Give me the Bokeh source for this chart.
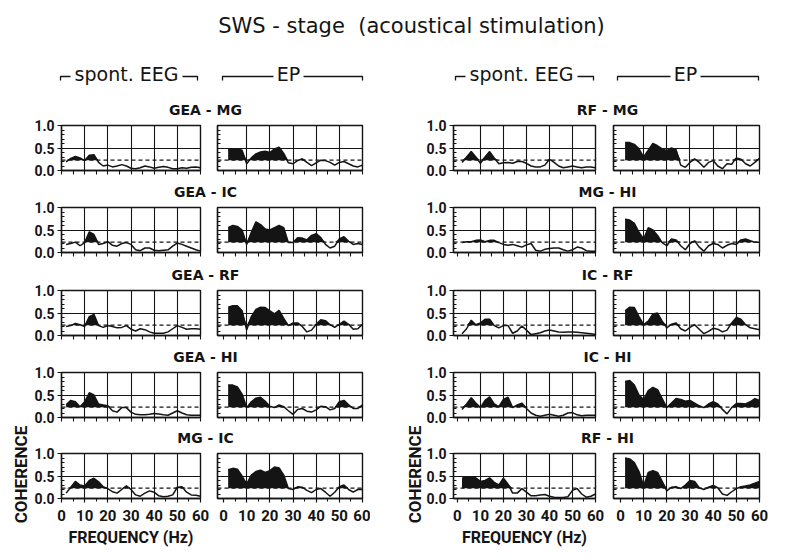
import numpy as np
from bokeh.plotting import figure
from bokeh.layouts import row, column
from bokeh.models import Range1d, FixedTicker, NumeralTickFormatter, Span
from bokeh.core.properties import value
from bokeh.embed import file_html
from bokeh.resources import INLINE

# ---------------- data ----------------
FREQ = [2, 4, 6, 8, 10, 12, 14, 16, 18, 20, 22, 24, 26, 28, 30,
        32, 34, 36, 38, 40, 42, 44, 46, 48, 50, 52, 54, 56, 58, 60]
SIG = 0.23  # significance level (dashed line)

TITLE = "SWS - stage\u00a0 (acoustical stimulation)"
GROUPS = ["spont. EEG", "EP"]
PAIRS_LEFT = ["GEA - MG", "GEA - IC", "GEA - RF", "GEA - HI", "MG - IC"]
PAIRS_RIGHT = ["RF - MG", "MG - HI", "IC - RF", "IC - HI", "RF - HI"]
X_TICKS = [0, 10, 20, 30, 40, 50, 60]
Y_TICKS = [0.0, 0.5, 1.0]
Y_LABEL = "COHERENCE"
X_LABEL = "FREQUENCY (Hz)"

GEA_MG_SP = [0.19, 0.27, 0.31, 0.28, 0.22, 0.34, 0.35, 0.18, 0.10, 0.12, 0.08, 0.10, 0.13, 0.10, 0.05,
             0.04, 0.06, 0.10, 0.08, 0.05, 0.07, 0.09, 0.07, 0.04, 0.04, 0.06, 0.05, 0.07, 0.08, 0.06]
GEA_MG_EP = [0.46, 0.47, 0.48, 0.45, 0.15, 0.28, 0.37, 0.41, 0.43, 0.40, 0.48, 0.52, 0.38, 0.17, 0.15,
             0.22, 0.26, 0.18, 0.11, 0.17, 0.23, 0.22, 0.18, 0.12, 0.18, 0.20, 0.15, 0.10, 0.08, 0.12]
GEA_IC_SP = [0.18, 0.20, 0.23, 0.15, 0.22, 0.46, 0.40, 0.18, 0.20, 0.24, 0.16, 0.14, 0.20, 0.22, 0.18,
             0.06, 0.04, 0.10, 0.10, 0.05, 0.04, 0.05, 0.06, 0.14, 0.21, 0.18, 0.14, 0.10, 0.06, 0.03]
GEA_IC_EP = [0.55, 0.60, 0.58, 0.50, 0.18, 0.45, 0.68, 0.62, 0.52, 0.50, 0.55, 0.60, 0.55, 0.22, 0.22,
             0.33, 0.32, 0.28, 0.38, 0.42, 0.33, 0.18, 0.10, 0.14, 0.30, 0.35, 0.25, 0.18, 0.20, 0.18]
GEA_RF_SP = [0.20, 0.22, 0.27, 0.24, 0.20, 0.42, 0.47, 0.22, 0.18, 0.22, 0.20, 0.17, 0.18, 0.22, 0.14,
             0.10, 0.15, 0.13, 0.08, 0.05, 0.05, 0.05, 0.08, 0.15, 0.22, 0.18, 0.14, 0.15, 0.15, 0.14]
GEA_RF_EP = [0.63, 0.66, 0.66, 0.55, 0.12, 0.42, 0.58, 0.63, 0.62, 0.55, 0.48, 0.56, 0.38, 0.22, 0.28,
             0.28, 0.20, 0.08, 0.12, 0.25, 0.35, 0.33, 0.24, 0.18, 0.25, 0.32, 0.25, 0.14, 0.15, 0.25]
GEA_HI_SP = [0.28, 0.38, 0.35, 0.24, 0.35, 0.55, 0.50, 0.30, 0.28, 0.26, 0.15, 0.12, 0.22, 0.22, 0.12,
             0.07, 0.06, 0.06, 0.07, 0.09, 0.08, 0.06, 0.05, 0.10, 0.15, 0.10, 0.06, 0.05, 0.05, 0.05]
GEA_HI_EP = [0.72, 0.72, 0.68, 0.52, 0.22, 0.35, 0.43, 0.45, 0.36, 0.25, 0.22, 0.28, 0.24, 0.15, 0.07,
             0.18, 0.20, 0.14, 0.12, 0.17, 0.25, 0.24, 0.17, 0.20, 0.35, 0.38, 0.28, 0.20, 0.20, 0.28]
MG_IC_SP = [0.12, 0.25, 0.38, 0.30, 0.28, 0.40, 0.45, 0.37, 0.26, 0.22, 0.15, 0.12, 0.20, 0.28, 0.20,
            0.08, 0.05, 0.12, 0.17, 0.14, 0.06, 0.04, 0.05, 0.08, 0.25, 0.26, 0.14, 0.08, 0.07, 0.05]
MG_IC_EP = [0.64, 0.67, 0.65, 0.50, 0.32, 0.52, 0.60, 0.63, 0.58, 0.62, 0.70, 0.68, 0.52, 0.22, 0.20,
            0.26, 0.25, 0.18, 0.13, 0.20, 0.22, 0.14, 0.05, 0.14, 0.26, 0.30, 0.20, 0.14, 0.20, 0.20]

RF_MG_SP = [0.18, 0.30, 0.42, 0.30, 0.16, 0.30, 0.42, 0.28, 0.15, 0.17, 0.18, 0.16, 0.20, 0.20, 0.16,
            0.10, 0.08, 0.08, 0.12, 0.25, 0.18, 0.10, 0.06, 0.08, 0.10, 0.08, 0.06, 0.08, 0.08, 0.06]
RF_MG_EP = [0.62, 0.62, 0.58, 0.48, 0.30, 0.45, 0.60, 0.55, 0.48, 0.44, 0.50, 0.46, 0.12, 0.07, 0.18,
            0.26, 0.18, 0.07, 0.18, 0.22, 0.10, 0.04, 0.15, 0.14, 0.28, 0.25, 0.15, 0.10, 0.18, 0.27]
MG_HI_SP = [0.22, 0.24, 0.24, 0.27, 0.28, 0.24, 0.27, 0.27, 0.22, 0.18, 0.16, 0.18, 0.15, 0.12, 0.17,
            0.20, 0.05, 0.03, 0.07, 0.09, 0.10, 0.10, 0.06, 0.03, 0.06, 0.12, 0.10, 0.04, 0.03, 0.03]
MG_HI_EP = [0.74, 0.72, 0.65, 0.45, 0.30, 0.55, 0.50, 0.38, 0.22, 0.15, 0.30, 0.28, 0.15, 0.06, 0.20,
            0.26, 0.12, 0.03, 0.15, 0.20, 0.18, 0.10, 0.16, 0.20, 0.18, 0.28, 0.30, 0.26, 0.23, 0.23]
IC_RF_SP = [0.04, 0.15, 0.34, 0.24, 0.28, 0.36, 0.36, 0.22, 0.17, 0.22, 0.22, 0.05, 0.10, 0.21, 0.12,
            0.02, 0.04, 0.06, 0.10, 0.12, 0.10, 0.08, 0.07, 0.08, 0.08, 0.07, 0.06, 0.05, 0.04, 0.02]
IC_RF_EP = [0.55, 0.63, 0.62, 0.42, 0.24, 0.32, 0.48, 0.50, 0.32, 0.17, 0.25, 0.28, 0.15, 0.10, 0.18,
            0.24, 0.14, 0.04, 0.09, 0.16, 0.14, 0.08, 0.12, 0.28, 0.40, 0.36, 0.24, 0.17, 0.15, 0.13]
IC_HI_SP = [0.18, 0.30, 0.44, 0.32, 0.22, 0.38, 0.46, 0.30, 0.24, 0.40, 0.45, 0.22, 0.28, 0.32, 0.20,
            0.10, 0.05, 0.03, 0.05, 0.07, 0.05, 0.03, 0.05, 0.10, 0.11, 0.06, 0.04, 0.05, 0.05, 0.05]
IC_HI_EP = [0.80, 0.82, 0.72, 0.50, 0.40, 0.60, 0.67, 0.62, 0.42, 0.22, 0.32, 0.42, 0.40, 0.36, 0.38,
            0.32, 0.26, 0.22, 0.30, 0.35, 0.30, 0.18, 0.08, 0.22, 0.31, 0.31, 0.30, 0.35, 0.42, 0.38]
RF_HI_SP = [0.45, 0.48, 0.48, 0.46, 0.38, 0.40, 0.46, 0.36, 0.30, 0.45, 0.32, 0.12, 0.12, 0.22, 0.14,
            0.06, 0.06, 0.08, 0.09, 0.05, 0.03, 0.02, 0.02, 0.04, 0.18, 0.22, 0.10, 0.03, 0.05, 0.10]
RF_HI_EP = [0.90, 0.88, 0.80, 0.60, 0.28, 0.58, 0.62, 0.58, 0.38, 0.17, 0.25, 0.26, 0.22, 0.30, 0.40,
            0.38, 0.24, 0.20, 0.25, 0.29, 0.24, 0.10, 0.07, 0.15, 0.22, 0.26, 0.28, 0.30, 0.34, 0.38]

LEFT_DATA = [(GEA_MG_SP, GEA_MG_EP), (GEA_IC_SP, GEA_IC_EP), (GEA_RF_SP, GEA_RF_EP),
             (GEA_HI_SP, GEA_HI_EP), (MG_IC_SP, MG_IC_EP)]
RIGHT_DATA = [(RF_MG_SP, RF_MG_EP), (MG_HI_SP, MG_HI_EP), (IC_RF_SP, IC_RF_EP),
              (IC_HI_SP, IC_HI_EP), (RF_HI_SP, RF_HI_EP)]

# ---------------- style / layout ----------------
INK = "#141414"
FONT = "DejaVu Sans"
AXFONT = "Roboto"
FRAME_H = 45
BT, BB, BB_LAST = 8, 8, 56

# per column: (x_start, frame width, border left, border right)
COLS = [(0.0, 139, 31, 9), (-2.6, 145, 8, 8), (-1.7, 142, 30, 9), (-3.0, 146, 9, 16)]
FRAME_TOPS = [125, 207, 290, 372, 453]
TOP_H = 100
X_MINOR = [5, 15, 25, 35, 45, 55]
X_ALL = [0, 5, 10, 15, 20, 25, 30, 35, 40, 45, 50, 55, 60]
Y_MINOR = [0.1, 0.2, 0.3, 0.4, 0.6, 0.7, 0.8, 0.9]


def canvas(x0, y0, w, h):
    p = figure(width=w, height=h, x_range=Range1d(x0, x0 + w), y_range=Range1d(y0 + h, y0),
               toolbar_location=None, output_backend="svg",
               x_axis_location=None, y_axis_location=None,
               min_border_left=0, min_border_right=0, min_border_top=0, min_border_bottom=0)
    p.grid.visible = False
    p.outline_line_color = None
    return p


def put_text(p, x, y, txt, size, style="normal", angle=0.0, font=FONT):
    p.text(x=[x], y=[y], text=[txt], text_font=value(font), text_font_size=value(size),
           text_font_style=value(style), text_align=value("center"),
           text_baseline=value("middle"), text_color=INK, angle=angle)


def style_axis(ax):
    ax.axis_line_color = INK
    ax.axis_line_width = 1.3
    ax.major_tick_line_color = INK
    ax.minor_tick_line_color = INK
    ax.major_tick_line_width = 1.2
    ax.minor_tick_line_width = 1.1
    ax.major_label_text_font = AXFONT
    ax.major_label_text_font_style = "bold"
    ax.major_label_text_color = INK


def panel(vals, col, last_row, show_y):
    x_start, fw, bl, br = COLS[col]
    bb = BB_LAST if last_row else BB
    p = figure(width=bl + fw + br, height=BT + FRAME_H + bb,
               x_range=Range1d(x_start, 60), y_range=Range1d(0, 1),
               toolbar_location=None, output_backend="svg",
               min_border_left=bl, min_border_right=br, min_border_top=BT, min_border_bottom=bb)
    p.background_fill_color = "white"
    p.outline_line_color = INK
    p.outline_line_width = 1.4

    p.varea(x=FREQ, y1=SIG, y2=list(np.maximum(vals, SIG)), fill_color=INK)
    p.line(FREQ, vals, line_color=INK, line_width=1.5)
    p.add_layout(Span(location=SIG, dimension="width", line_color=INK,
                      line_width=1.2, line_dash="4 3"))

    p.xgrid.ticker = FixedTicker(ticks=[10, 20, 30, 40, 50])
    p.ygrid.ticker = FixedTicker(ticks=[0.5])
    for g in (p.xgrid[0], p.ygrid[0]):
        g.grid_line_color = INK
        g.grid_line_width = 1.1
        g.grid_line_alpha = 1.0

    xa = p.xaxis[0]
    style_axis(xa)
    xa.major_tick_in, xa.major_tick_out = 0, 4
    xa.minor_tick_in, xa.minor_tick_out = 0, 3
    if last_row:
        xa.ticker = FixedTicker(ticks=X_TICKS, minor_ticks=X_MINOR)
        xa.major_label_text_font_size = "15px"
        xa.major_label_standoff = 7
        if col in (0, 2):
            xa.axis_label = X_LABEL
            xa.axis_label_text_font = AXFONT
            xa.axis_label_text_font_size = "16px"
            xa.axis_label_text_font_style = "bold"
            xa.axis_label_text_color = INK
            xa.axis_label_standoff = 4
    else:
        # ticks only, no labels
        xa.ticker = FixedTicker(ticks=[], minor_ticks=X_ALL)
        xa.minor_tick_out = 4

    ya = p.yaxis[0]
    style_axis(ya)
    ya.minor_tick_in, ya.minor_tick_out = 3, 0
    if show_y:
        ya.ticker = FixedTicker(ticks=Y_TICKS, minor_ticks=Y_MINOR)
        ya.formatter = NumeralTickFormatter(format="0.0")
        ya.major_tick_in, ya.major_tick_out = 0, 4
        ya.major_label_text_font_size = "14px"
        ya.major_label_standoff = 3
    else:
        ya.ticker = FixedTicker(ticks=[], minor_ticks=Y_MINOR + [0.5])
    return p


def half(data, pairs, cols, x0, label_x):
    w = sum(COLS[c][1] + COLS[c][2] + COLS[c][3] for c in cols)
    items = []
    y = TOP_H
    for i, (sp, ep) in enumerate(data):
        sh = FRAME_TOPS[i] - BT - y
        s = canvas(x0, y, w, sh)
        put_text(s, label_x, FRAME_TOPS[i] - 16, pairs[i], "14px", "bold")
        items.append(s)
        y += sh
        last = i == len(data) - 1
        p1 = panel(sp, cols[0], last, True)
        p2 = panel(ep, cols[1], last, False)
        items.append(row(p1, p2))
        y += p1.height
    return column(*items), w, y


# ---------------- header ----------------
top = canvas(0, 0, 780, TOP_H)
put_text(top, 411, 25, TITLE, "21px", "normal")
HEAD_Y, LINE_Y, HOOK = 73, 76, 4
# (text, text centre, bracket start, bracket end, half-width of text gap)
heads = [(GROUPS[0], 126, 60, 197, 56), (GROUPS[1], 288, 222, 362, 15),
         (GROUPS[0], 521, 455, 593, 56), (GROUPS[1], 685, 617, 758, 15)]
for txt, cx, a, b, g in heads:
    put_text(top, cx, HEAD_Y, txt, "19px", "normal")
    top.multi_line(xs=[[a, a, cx - g], [cx + g, b, b]],
                   ys=[[LINE_Y + HOOK, LINE_Y, LINE_Y], [LINE_Y, LINE_Y, LINE_Y + HOOK]],
                   line_color=INK, line_width=1.3)

left_half, wl, bottom = half(LEFT_DATA, PAIRS_LEFT, (0, 1), 30, 205)
right_half, wr, _ = half(RIGHT_DATA, PAIRS_RIGHT, (2, 3), 423, 607)

body_h = bottom - TOP_H
lstrip = canvas(0, TOP_H, 30, body_h)
put_text(lstrip, 20, 474, Y_LABEL, "17px", "bold", angle=np.pi / 2, font=AXFONT)
mstrip = canvas(370, TOP_H, 53, body_h)
put_text(mstrip, 414, 474, Y_LABEL, "17px", "bold", angle=np.pi / 2, font=AXFONT)

root = column(top, row(lstrip, left_half, mstrip, right_half))

with open("out.html", "w") as f:
    f.write(file_html(root, INLINE))
